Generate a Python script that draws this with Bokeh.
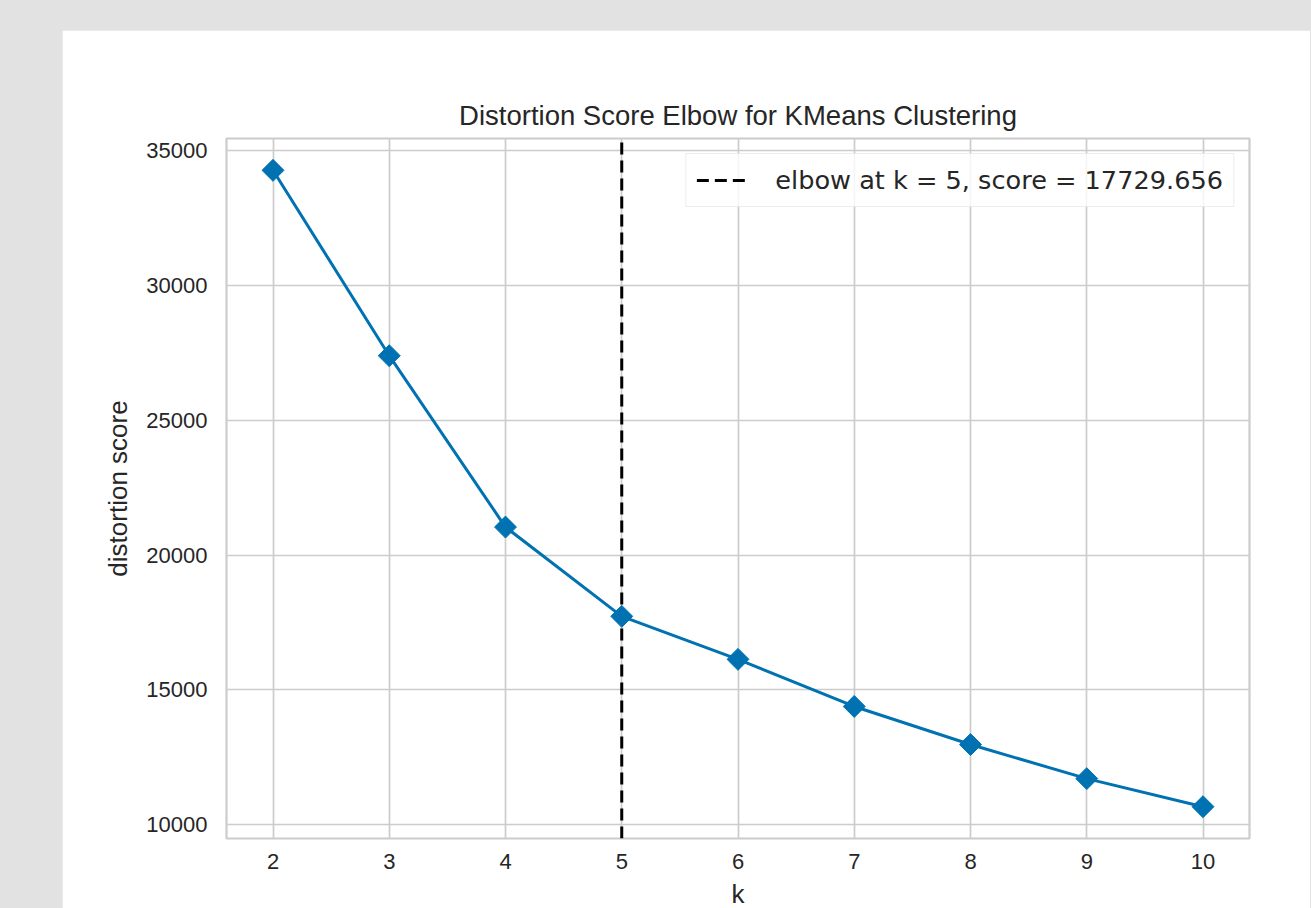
import numpy as np
from bokeh.plotting import figure
from bokeh.models import Range1d, FixedTicker, Legend, LegendItem
from bokeh.layouts import column
from bokeh.embed import file_html
from bokeh.resources import INLINE

# ---- data ----
k_values = [2, 3, 4, 5, 6, 7, 8, 9, 10]
distortion = [34275, 27398, 21041, 17729.656, 16134, 14387, 12974, 11710, 10669]
elbow_k = 5
elbow_score = 17729.656
x_ticks = [2, 3, 4, 5, 6, 7, 8, 9, 10]
y_ticks = [10000, 15000, 20000, 25000, 30000, 35000]
title_text = "Distortion Score Elbow for KMeans Clustering"
x_label = "k"
y_label = "distortion score"
legend_label = f"elbow at k = {elbow_k}, score = {elbow_score:.3f}"

# ---- styles ----
BLUE = "#0072B2"
TXT = "#262626"
GRID = "#cccccc"
FONT = "Liberation Sans"

xpad = 0.05 * (max(k_values) - min(k_values))
ypad = 0.05 * (max(distortion) - min(distortion))
x_range = Range1d(min(k_values) - xpad, max(k_values) + xpad)
y_range = Range1d(min(distortion) - ypad, max(distortion) + ypad)

p = figure(width=1248, height=888, output_backend="svg", toolbar_location=None,
           x_range=x_range, y_range=y_range,
           min_border_left=164, min_border_right=61,
           min_border_top=108, min_border_bottom=80,
           background_fill_color="white", border_fill_color="white",
           title=title_text)

p.title.text_font = FONT
p.title.text_font_size = "27.5px"
p.title.text_font_style = "normal"
p.title.text_color = TXT
p.title.align = "center"
p.title.standoff = 15

p.outline_line_color = GRID
p.outline_line_width = 2.2

for ax in (p.xaxis, p.yaxis):
    ax.axis_line_color = None
    ax.major_tick_line_color = None
    ax.minor_tick_line_color = None
    ax.major_tick_out = 0
    ax.major_tick_in = 0
    ax.major_label_text_font = FONT
    ax.major_label_text_font_size = "22px"
    ax.major_label_text_color = TXT
    ax.axis_label_text_font = FONT
    ax.axis_label_text_font_size = "26px"
    ax.axis_label_text_font_style = "normal"
    ax.axis_label_text_color = TXT

p.xaxis.ticker = FixedTicker(ticks=x_ticks)
p.yaxis.ticker = FixedTicker(ticks=y_ticks)
p.xaxis.axis_label = x_label
p.yaxis.axis_label = y_label
p.xaxis.major_label_standoff = 15
p.yaxis.major_label_standoff = 19
p.xaxis.axis_label_standoff = 7
p.yaxis.axis_label_standoff = 10

p.grid.grid_line_color = GRID
p.grid.grid_line_width = 1.7

# elbow line
elbow = p.segment(x0=[elbow_k], y0=[y_range.start], x1=[elbow_k], y1=[y_range.end],
                  line_color="black", line_width=3, line_dash="12 6")

# curve
p.line(k_values, distortion, line_color=BLUE, line_width=3)
p.scatter(k_values, distortion, marker="square", angle=np.pi / 4, size=15.5,
          fill_color=BLUE, line_color=BLUE)

legend = Legend(items=[LegendItem(label=legend_label, renderers=[elbow])],
                location="top_right", margin=15, padding=10,
                glyph_width=54, label_standoff=25, label_height=32,
                label_text_font="DejaVu Sans", label_text_font_size="25.6px",
                label_text_color=TXT,
                border_line_color="#d9d9d9", border_line_width=1.5,
                background_fill_color="white", background_fill_alpha=0.8)
p.add_layout(legend)

p.margin = (30, 0, 0, 62)
page = column(p, margin=0, width=1311, height=908,
              styles={"background-color": "#e2e2e2", "overflow": "hidden"})

open("out.html", "w").write(file_html(page, INLINE))
